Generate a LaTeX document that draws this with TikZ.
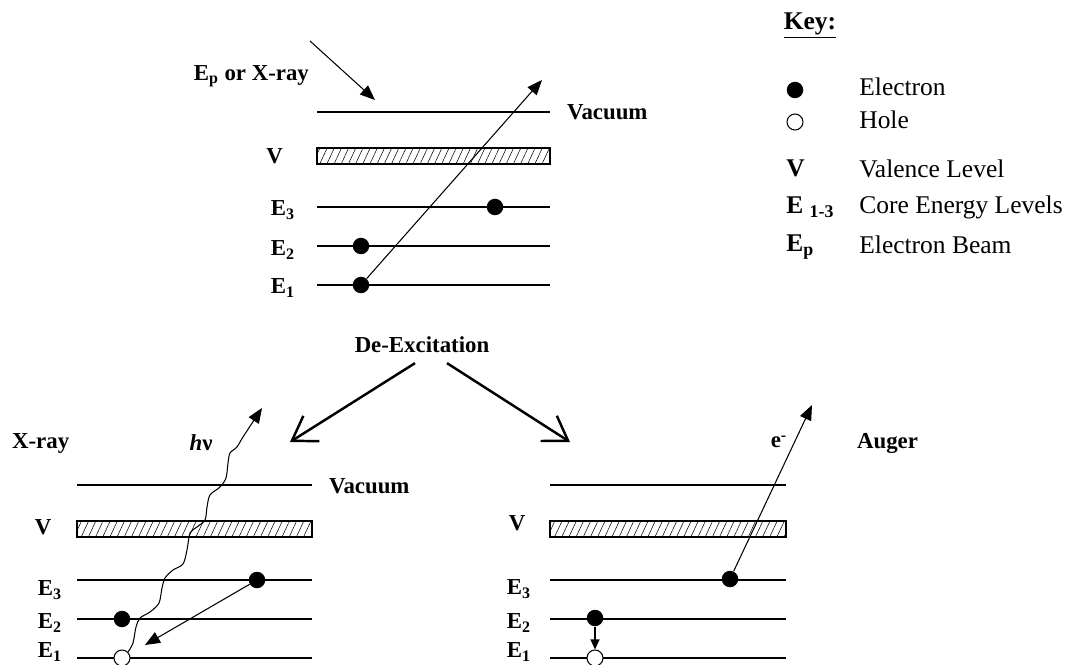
\documentclass[tikz,border=0pt]{standalone}
\usepackage{fontspec}
\setmainfont{Liberation Serif}
\usetikzlibrary{arrows.meta,positioning,patterns.meta}
\tikzset{
	level/.style={line width=0.6pt},
	band/.style={draw, line width=0.6pt, pattern={Lines[angle=65,distance=1.3mm,line width=0.3pt]}},
	electron/.style={circle, fill=black, inner sep=0pt, minimum size=3.3mm},
	hole/.style={circle, draw=black, fill=white, line width=0.6pt, inner sep=0pt, minimum size=3.2mm},
	lbl/.style={font=\fontsize{13}{15}\selectfont\bfseries, inner sep=1pt},
	keysym/.style={font=\fontsize{14.5}{17}\selectfont\bfseries, anchor=base west, inner sep=0pt},
	keytxt/.style={font=\fontsize{14.5}{17}\selectfont, anchor=base west, inner sep=0pt},
	thinarr/.style={-{Triangle[length=3mm,width=2.4mm]}, line width=0.6pt},
	bigarr/.style={-{Straight Barb[length=4.6mm,width=6mm]}, line width=1.4pt}
}

\begin{document}
\begin{tikzpicture}[x=0.2mm, y=-0.2mm]
	\useasboundingbox (0,0) rectangle (1075,665);
	% levels of the three panels
	\foreach \xa/\xb/\y in {317/550/112, 77/312/485, 550/786/485}{
		\draw[level] (\xa,\y) -- (\xb,\y);
		\draw[band] (\xa,\y+36) rectangle (\xb,\y+52);
		\draw[level] (\xa,\y+95) -- (\xb,\y+95);
		\draw[level] (\xa,\y+134) -- (\xb,\y+134);
		\draw[level] (\xa,\y+173) -- (\xb,\y+173);
	}
	% excitation
	\node[lbl, anchor=east] (beam) at (311,76) {E\textsubscript{p} or X-ray};
	\node[lbl, anchor=west] (vac) at (565,112) {Vacuum};
	\node[lbl, anchor=east] (vt) at (285,156) {V};
	\node[lbl, anchor=east] (e3t) at (297,210) {E\textsubscript{3}};
	\node[lbl, anchor=east] (e2t) at (297,250) {E\textsubscript{2}};
	\node[lbl, anchor=east] (e1t) at (297,288) {E\textsubscript{1}};
	\node[electron] (a3) at (495,207) {};
	\node[electron] (a2) at (361,246) {};
	\node[electron] (a1) at (361,285) {};
	\coordinate (ain) at (310,41);
	\coordinate (ahit) at (375,100);
	\coordinate (aout) at (542,80);
	\draw[thinarr] (ain) -- (ahit);
	\draw[thinarr] (a1) -- (aout);
	% branches
	\node[lbl] (dex) at (422,345) {De-Excitation};
	\coordinate (lt) at (290,442);
	\coordinate (rt) at (570,442);
	\draw[bigarr] ([xshift=-1.4mm,yshift=-1.6mm]dex.south) -- (lt);
	\draw[bigarr] ([xshift=5mm,yshift=-1.6mm]dex.south) -- (rt);
	% x-ray emission
	\node[lbl, anchor=west] (xr) at (10,443) {X-ray};
	\node[lbl] (hv) at (201,443) {\textit{h}ν};
	\node[lbl, anchor=west] (vacl) at (327,486) {Vacuum};
	\node[lbl] (vl) at (43,527) {V};
	\node[lbl, anchor=east] (e3l) at (64,590) {E\textsubscript{3}};
	\node[lbl, anchor=east] (e2l) at (64,623) {E\textsubscript{2}};
	\node[lbl, anchor=east] (e1l) at (64,652) {E\textsubscript{1}};
	\node[electron] (b3) at (257,580) {};
	\node[electron] (b2) at (122,619) {};
	\node[hole] (b1) at (122,658) {};
	\coordinate (btip) at (145,645);
	\draw[thinarr] (b3) -- (btip);
	\draw[thinarr] plot[smooth, tension=0.5] coordinates {(b1.north east) (133,643) (136,627) (140,618) (150,612) (159,603) (162,588) (165,578) (173,570) (183,564) (187,550) (190,533) (197,527) (205,520) (207,507) (210,495) (220,487) (226,478) (228,463) (230,453) (237,447) (243,437) (262,408)};
	% auger emission
	\node[lbl] (vr) at (517,523) {V};
	\node[lbl, anchor=east] (e3r) at (533,589) {E\textsubscript{3}};
	\node[lbl, anchor=east] (e2r) at (533,623) {E\textsubscript{2}};
	\node[lbl, anchor=east] (e1r) at (533,652) {E\textsubscript{1}};
	\node[electron] (c3) at (730,579) {};
	\node[electron] (c2) at (595,618) {};
	\node[hole] (c1) at (595,658) {};
	\coordinate (ctip) at (812,405);
	\draw[thinarr] (c3) -- (ctip);
	\draw[line width=0.6pt, -{Triangle[length=2mm,width=1.8mm]}] (c2) -- (c1);
	\node[lbl] (em) at (779,442) {e\textsuperscript{-}};
	\node[lbl, anchor=west] (aug) at (855,443) {Auger};
	% key
	\node[keysym, anchor=center] (key) at (810,26) {\underline{Key:}};
	\node[electron] (kel) at (795,90) {};
	\node[hole] (kho) at (795,122) {};
	\node[keysym] (kv) at (786,177) {V};
	\node[keysym] (ke) at (786,214) {E \textsubscript{1-3}};
	\node[keysym] (kp) at (786,252) {E\textsubscript{p}};
	\node[keytxt] (t1) at (859,96) {Electron};
	\node[keytxt] (t2) at (859,129) {Hole};
	\node[keytxt] (t3) at (859,178) {Valence Level};
	\node[keytxt] (t4) at (859,214) {Core Energy Levels};
	\node[keytxt] (t5) at (859,253) {Electron Beam};
\end{tikzpicture}
\end{document}
